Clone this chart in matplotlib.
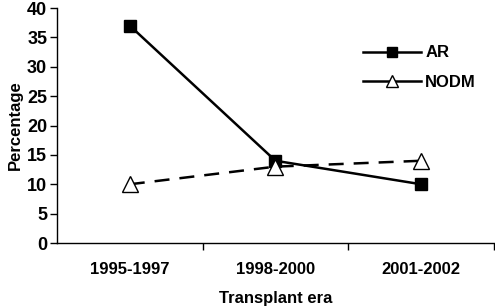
import matplotlib
matplotlib.use("Agg")
import matplotlib.pyplot as plt
from matplotlib.lines import Line2D

categories = ["1995-1997", "1998-2000", "2001-2002"]
ar = [37, 14, 10]
nodm = [10, 13, 14]
yticks = [0, 5, 10, 15, 20, 25, 30, 35, 40]

plt.rcParams['font.family'] = ['Liberation Sans', 'DejaVu Sans']
fig = plt.figure(figsize=(4.95, 3.08), dpi=100)
ax = fig.add_axes([0.115, 0.211, 0.883, 0.763])

x = list(range(len(categories)))
ax.plot(x, ar, color='black', lw=1.8, marker='s', ms=8, mfc='black', mec='black', label='AR')
ax.plot(x, nodm, color='black', lw=1.8, ls=(0, (6, 4)), marker='^', ms=11, mfc='white', mec='black', mew=1, label='NODM')

ax.set_xlim(-0.5, 2.5)
ax.set_ylim(0, 40)
ax.set_yticks(yticks)
ax.set_yticklabels([str(v) for v in yticks], fontsize=13, fontweight='bold')
ax.set_xticks(x)
ax.set_xticklabels(categories, fontsize=12, fontweight='bold')
ax.set_xticks([0.5, 1.5, 2.5], minor=True)
ax.tick_params(axis='x', which='major', length=0, pad=14)
ax.tick_params(axis='x', which='minor', length=5, width=1, direction='out')
ax.tick_params(axis='y', length=5, width=1, direction='out', pad=2)
for s in ['top', 'right']:
    ax.spines[s].set_visible(False)
for s in ['left', 'bottom']:
    ax.spines[s].set_linewidth(1)

ax.set_ylabel('Percentage', fontsize=12, fontweight='bold', labelpad=3)
ax.set_xlabel('Transplant era', fontsize=12, fontweight='bold', labelpad=10)

handles = [
    Line2D([], [], color='black', lw=1.8, marker='s', ms=7, mfc='black', mec='black'),
    Line2D([], [], color='black', lw=1.8, marker='^', ms=9, mfc='white', mec='black', mew=1),
]
leg = ax.legend(handles, ['AR', 'NODM'], loc='upper left', bbox_to_anchor=(0.665, 0.905),
                frameon=False, prop={'size': 12, 'weight': 'bold'}, handlelength=3.5,
                labelspacing=0.85, handletextpad=0.25)

fig.savefig('out.png', dpi=100)
